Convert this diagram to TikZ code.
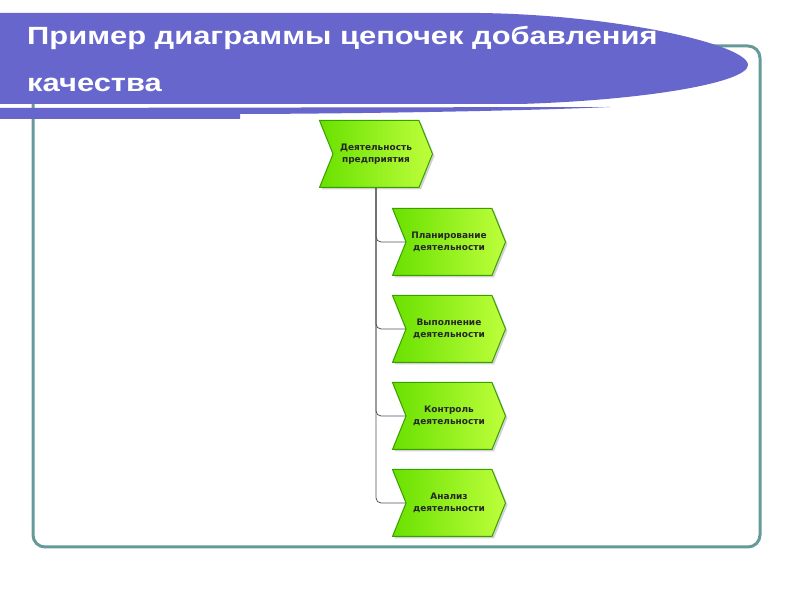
\documentclass[tikz,border=0pt]{standalone}
\usepackage{fontspec}
\setmainfont{Liberation Sans}
\newfontfamily\titlefont[FakeStretch=1.24]{Liberation Sans}
\newfontfamily\nodefont{DejaVu Sans}
\usetikzlibrary{shapes.symbols,shadows}
\definecolor{bannerfill}{RGB}{102,102,204}
\definecolor{framecol}{RGB}{102,153,153}
\definecolor{stepgreen}{RGB}{105,225,0}
\definecolor{steplight}{RGB}{190,255,60}
\definecolor{stepedge}{RGB}{55,160,0}
\definecolor{linkcol}{RGB}{85,85,85}
\begin{document}
\begin{tikzpicture}[
	chevron/.style={signal,signal to=east,signal from=west,signal pointer angle=136,
		minimum width=113bp,minimum height=67bp,inner sep=0pt,
		draw=stepedge,line width=1bp,left color=stepgreen,right color=steplight,
		drop shadow={shadow xshift=2bp,shadow yshift=-2bp,fill=black!35},
		font=\nodefont\bfseries\fontsize{9}{12.5}\selectfont,text=black!85,align=center},
	heading/.style={anchor=base west,inner sep=0pt,text=white,
		font=\titlefont\bfseries\fontsize{25}{30}\selectfont},
	link/.style={draw=linkcol,line width=0.8bp,rounded corners=5bp}]
		%%
	\useasboundingbox (0,0) rectangle (800bp,600bp);
	\fill[white] (0,0) rectangle (800bp,600bp);
	\draw[framecol,line width=3bp,rounded corners=12bp] (33bp,53bp) rectangle (760bp,554bp);
	\fill[bannerfill] (0bp,587bp) -- (480bp,587bp) .. controls (620bp,585bp) and (748bp,555bp) .. (748bp,535bp) .. controls (748bp,518bp) and (650bp,500bp) .. (520bp,496bp) -- (0bp,496bp) -- cycle;
	\fill[bannerfill] (0bp,492bp) -- (610bp,493bp) .. controls (500bp,488bp) and (300bp,486bp) .. (240bp,486bp) -- (240bp,481bp) -- (0bp,481bp) -- cycle;
	\node (Title1) at (27bp,555bp) [heading] {Пример диаграммы цепочек добавления};
	\node (Title2) at (27bp,508bp) [heading] {качества};
		%
	\node (Firm) at (376bp,446bp) [chevron] {Деятельность\\предприятия};
	\node (Plan) at (449bp,358bp) [chevron] {Планирование\\деятельности};
	\node (Exec) at (449bp,271bp) [chevron] {Выполнение\\деятельности};
	\node (Ctrl) at (449bp,184bp) [chevron] {Контроль\\деятельности};
	\node (Anal) at (449bp,97bp) [chevron] {Анализ\\деятельности};
	\draw [link] (Firm) |- (Plan);
	\draw [link] (Firm) |- (Exec);
	\draw [link] (Firm) |- (Ctrl);
	\draw [link] (Firm) |- (Anal);
		%
\end{tikzpicture}
\end{document}
